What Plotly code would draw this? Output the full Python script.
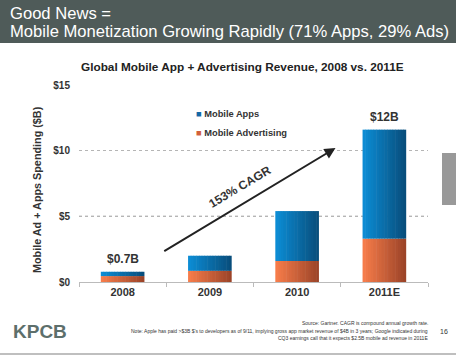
import plotly.graph_objects as go

# ---- data ----
years = ["2008", "2009", "2010", "2011E"]
ads = [0.45, 0.85, 1.6, 3.3]
apps = [0.33, 1.15, 3.8, 8.3]
total_labels = {"2008": "$0.7B", "2011E": "$12B"}
y_ticks = [0, 5, 10, 15]
y_tick_text = ["$0", "$5", "$10", "$15"]

W, H = 456, 360
L, R, T, B = 79, 428, 85, 282
PW, PH = R - L, B - T


def px(x):
    return (x - L) / PW


def py(y):
    return (B - y) / PH


def lerp(c1, c2, t):
    return "rgb(%d,%d,%d)" % tuple(round(a + (b - a) * t) for a, b in zip(c1, c2))


BLUE_L, BLUE_R = (12, 140, 212), (8, 78, 124)
ORNG_L, ORNG_R = (246, 124, 74), (156, 68, 40)

FONT = "Liberation Sans, Arial, sans-serif"
fig = go.Figure()

N = 16
BW = 0.5
step = BW / N
for k in range(N):
    t = k / (N - 1)
    w = step * 1.2 if k < N - 1 else step
    off = -BW / 2 + k * step
    fig.add_trace(go.Bar(x=years, y=ads, base=[0] * len(ads), width=w, offset=off,
                         marker=dict(color=lerp(ORNG_L, ORNG_R, t), line=dict(width=0)),
                         showlegend=False, hoverinfo="skip"))
    fig.add_trace(go.Bar(x=years, y=apps, base=ads, width=w, offset=off,
                         marker=dict(color=lerp(BLUE_L, BLUE_R, t), line=dict(width=0)),
                         showlegend=False, hoverinfo="skip"))

# legend entries (icon drawn as a glyph inside the name)
for nm, col in [("Mobile Apps", "#1467a6"), ("Mobile Advertising", "#d25f3a")]:
    fig.add_trace(go.Scatter(x=[None], y=[None], mode="markers",
                             marker=dict(size=1, color="rgba(0,0,0,0)"),
                             name="<span style='color:%s'>■</span> <b>%s</b>" % (col, nm)))

annotations = []
# bar total labels
for i, yr in enumerate(years):
    if yr in total_labels:
        annotations.append(dict(x=i, y=ads[i] + apps[i], xref="x", yref="y",
                                text="<b>%s</b>" % total_labels[yr],
                                showarrow=False, yanchor="bottom", yshift=4,
                                font=dict(size=12, color="#333", family=FONT)))

# CAGR arrow
annotations.append(dict(x=2.44, y=10.2, ax=0.46, ay=2.28, xref="x", yref="y", axref="x", ayref="y",
                        showarrow=True, arrowhead=2, arrowsize=1.1, arrowwidth=2, arrowcolor="#222",
                        text=""))
annotations.append(dict(x=1.34, y=7.25, xref="x", yref="y", text="<b>153% CAGR</b>", showarrow=False,
                        textangle=-31, font=dict(size=12, color="#333", family=FONT)))

# header
annotations.append(dict(x=px(8), y=py(14), xref="paper", yref="paper", xanchor="left", yanchor="middle",
                        text="Good News =", showarrow=False, font=dict(size=16.6, color="white", family=FONT)))
annotations.append(dict(x=px(8), y=py(32), xref="paper", yref="paper", xanchor="left", yanchor="middle",
                        text="Mobile Monetization Growing Rapidly (71% Apps, 29% Ads)", showarrow=False,
                        font=dict(size=16.6, color="white", family=FONT)))

# chart title
annotations.append(dict(x=px(242), y=py(67), xref="paper", yref="paper", xanchor="center", yanchor="middle",
                        text="<b>Global Mobile App + Advertising Revenue, 2008 vs. 2011E</b>", showarrow=False,
                        font=dict(size=11.8, color="#222", family=FONT)))
# y axis title
annotations.append(dict(x=px(37), y=py(190), xref="paper", yref="paper", xanchor="center", yanchor="middle",
                        text="<b>Mobile Ad + Apps Spending ($B)</b>", showarrow=False, textangle=-90,
                        font=dict(size=10.8, color="#333", family=FONT)))
# footer
annotations.append(dict(x=px(11), y=py(331), xref="paper", yref="paper", xanchor="left", yanchor="middle",
                        text="<b>KPCB</b>", showarrow=False,
                        font=dict(size=19, color="#5d6f6b", family="Liberation Sans Narrow, Arial Narrow, sans-serif")))
foot = ["Source: Gartner. CAGR is compound annual growth rate.",
        "Note: Apple has paid >$3B $'s to developers as of 9/11, implying gross app market revenue of $4B in 3 years; Google indicated during",
        "CQ3 earnings call that it expects $2.5B mobile ad revenue in 2011E"]
for j, line in enumerate(foot):
    annotations.append(dict(x=px(430), y=py(323 + 7.5 * j), xref="paper", yref="paper", xanchor="right",
                            yanchor="middle", text=line, showarrow=False,
                            font=dict(size=5, color="#333", family=FONT)))
annotations.append(dict(x=px(444), y=py(331), xref="paper", yref="paper", xanchor="center", yanchor="middle",
                        text="16", showarrow=False, font=dict(size=7, color="#333", family=FONT)))

shapes = [
    dict(type="rect", xref="paper", yref="paper", x0=px(0), x1=px(W), y0=py(43), y1=py(0),
         fillcolor="#4f5b59", line=dict(width=0), layer="below"),
    dict(type="line", xref="paper", yref="paper", x0=px(0), x1=px(W), y0=py(354), y1=py(354),
         line=dict(color="#aaa", width=1.5)),
    dict(type="rect", xref="paper", yref="paper", x0=px(442), x1=px(460), y0=py(205), y1=py(153),
         fillcolor="#999", line=dict(width=0)),
    dict(type="line", xref="paper", yref="y", x0=0, x1=1, y0=5, y1=5,
         line=dict(color="#555", width=1, dash="dot"), layer="below"),
]

fig.update_layout(
    width=W, height=H,
    margin=dict(l=L, r=W - R, t=T, b=H - B, pad=0),
    paper_bgcolor="white", plot_bgcolor="white",
    barmode="overlay",
    bargap=0.5,
    font=dict(family=FONT, color="#333"),
    showlegend=True,
    legend=dict(x=px(156), y=py(99), xanchor="left", yanchor="top", bgcolor="rgba(0,0,0,0)",
                font=dict(size=9.3, color="#333", family=FONT), itemwidth=30, tracegroupgap=0,
                traceorder="normal"),
    annotations=annotations,
    shapes=shapes,
    xaxis=dict(type="category", categoryorder="array", categoryarray=years,
               range=[-0.5, 3.5], showgrid=False, showline=True, linecolor="#bbb", linewidth=1,
               ticks="outside", tickson="boundaries", ticklen=4, tickcolor="#bbb",
               tickvals=years, ticktext=["<b>%s</b>" % y for y in years],
               tickfont=dict(size=11, color="#333", family=FONT), zeroline=False, fixedrange=True),
    yaxis=dict(range=[0, 15], tickvals=y_ticks, ticktext=["<b>%s</b>" % t for t in y_tick_text],
               showgrid=True, gridcolor="#b5b5b5", griddash="dot", gridwidth=1,
               zeroline=False, showline=False, ticks="", ticklabelstandoff=8,
               tickfont=dict(size=10, color="#333", family=FONT), fixedrange=True),
)

fig.write_html("out.html", config={"displayModeBar": False},
               post_script="document.body.style.margin='0';document.body.style.overflow='hidden';")
